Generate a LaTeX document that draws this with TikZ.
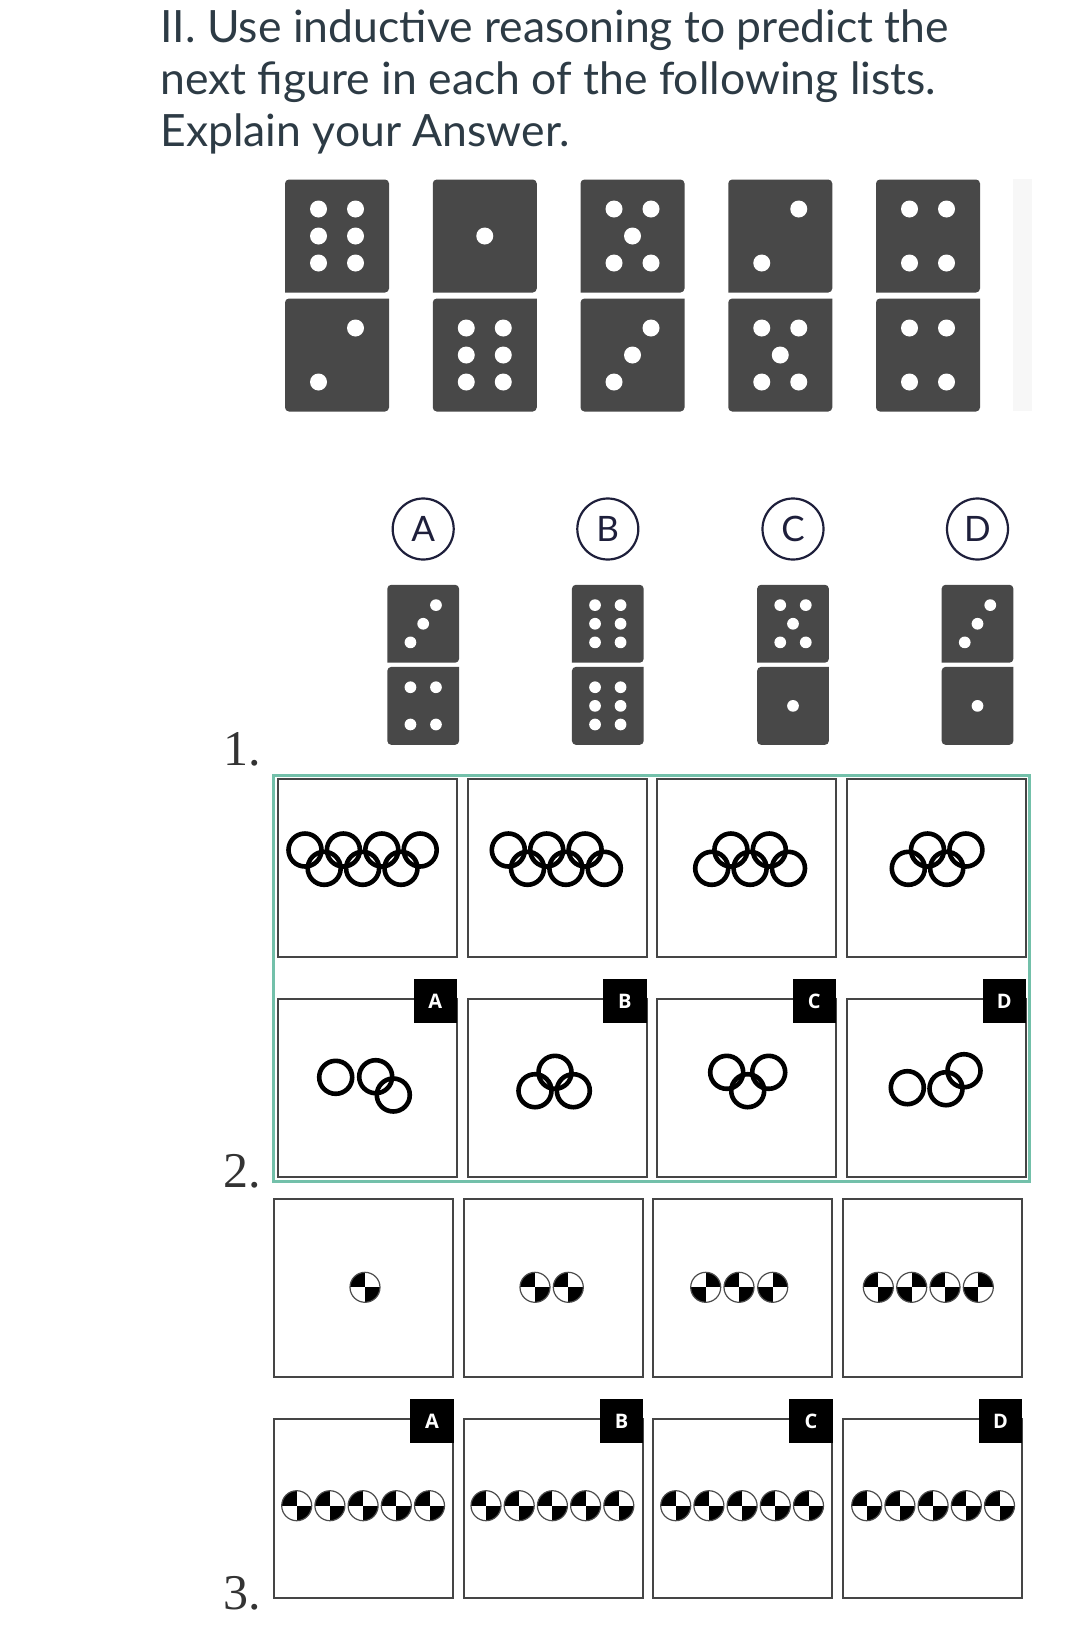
\documentclass[tikz,border=0pt]{standalone}
\usepackage{fontspec}
\setmainfont{Lato}
\newfontfamily\numfont{Liberation Serif}
\newfontfamily\tagfont{Open Sans}
\usetikzlibrary{positioning}

\definecolor{canvastext}{HTML}{2D3B45}
\definecolor{dominogray}{HTML}{484848}
\definecolor{framegreen}{RGB}{115,192,170}
\definecolor{boxgray}{HTML}{454545}
\definecolor{circlenavy}{HTML}{1E1F3B}
\definecolor{numgray}{HTML}{333333}

% one white pip, offset from the face centre \fy
\def\pip(#1,#2){\fill[white] ({#1},{\fy+(#2)}) circle (8.5);}
\newcommand{\pips}[1]{%
  \ifcase#1\or
    \pip(0,0)\or
    \pip(18.5,-27)\pip(-18.5,27)\or
    \pip(18.5,-27)\pip(0,0)\pip(-18.5,27)\or
    \pip(-18.5,-27)\pip(18.5,-27)\pip(-18.5,27)\pip(18.5,27)\or
    \pip(-18.5,-27)\pip(18.5,-27)\pip(0,0)\pip(-18.5,27)\pip(18.5,27)\or
    \pip(-18.5,-27)\pip(18.5,-27)\pip(-18.5,0)\pip(18.5,0)\pip(-18.5,27)\pip(18.5,27)\fi}
% domino: centre x, centre y, scale, top, bottom
\newcommand{\domino}[5]{%
  \begin{scope}[shift={(#1,#2)}, scale=#3]
    \fill[dominogray] (-52,-3) [rounded corners=2pt] -- (-52,-116) -- (52,-116) -- (52,-3) [sharp corners] -- cycle;
    \fill[dominogray] (52,3) [rounded corners=2pt] -- (52,116) -- (-52,116) -- (-52,3) [sharp corners] -- cycle;
    \def\fy{-59.5}\pips{#4}
    \def\fy{59.5}\pips{#5}
  \end{scope}}
% crash test mark: x, y, 0 = black top left, 1 = black top right
\newcommand{\crash}[3]{%
  \begin{scope}
    \clip (#1,#2) circle (15);
    \fill[white] (#1,#2) circle (15);
    \ifnum#3=0
      \fill[black] (#1-15,#2-15) rectangle (#1,#2);
      \fill[black] (#1,#2) rectangle (#1+15,#2+15);
    \else
      \fill[black] (#1,#2-15) rectangle (#1+15,#2);
      \fill[black] (#1-15,#2) rectangle (#1,#2+15);
    \fi
  \end{scope}
  \draw[black!70, line width=0.6pt] (#1,#2) circle (15);}

\begin{document}
\begin{tikzpicture}[x=0.5pt, y=-0.5pt]
    \tikzstyle{titletext} = [anchor=base west, inner sep=0pt, text=canvastext, font=\fontsize{22.25}{26}\selectfont]
    \tikzstyle{numtext} = [anchor=base west, inner sep=0pt, text=numgray, font=\numfont\fontsize{25}{25}\selectfont]
    \tikzstyle{optcircle} = [circle, draw=circlenavy, line width=1.1pt, minimum size=30.5pt, inner sep=0pt, text=circlenavy, font=\fontsize{17.5}{17.5}\selectfont]
    \tikzstyle{cell} = [draw=boxgray, line width=1pt]
    \tikzstyle{tag} = [fill=black, text=white, minimum size=21.7pt, inner sep=0pt, anchor=north east, font=\tagfont\bfseries\fontsize{10}{10}\selectfont]
    \tikzstyle{ring} = [draw=black, line width=2.3pt]
    \tikzstyle{frame} = [draw=framegreen, line width=1.5pt]

    \useasboundingbox[fill=white] (0,0) rectangle (1080,1644);

    % ================= title =================
    \node[titletext] (title1) at (160,42) {II. Use inductive reasoning to predict the};
    \node[titletext] (title2) at (160,94.4) {next figure in each of the following lists.};
    \node[titletext] (title3) at (160,146.8) {Explain your Answer.};

    \node[numtext] (num1) at (223,765) {1.};
    \node[numtext] (num2) at (223,1187) {2.};
    \node[numtext] (num3) at (223,1609) {3.};

    % ================= 1: dominoes =================
    \foreach \tp/\bt [count=\i from 0] in {6/2,1/6,5/3,2/5,4/4} {
        \domino{337+147.75*\i}{295.5}{1}{\tp}{\bt}
    }
    \fill[gray!6] (1013,179) rectangle (1032,411);

    % choices
    \foreach \cx/\tp/\bt/\lab in {423.2/3/4/A, 607.8/6/6/B, 793/5/1/C, 977.5/3/1/D} {
        \node[optcircle] (opt\lab) at (\cx,529) {\lab};
        \domino{\cx}{664.8}{0.69}{\tp}{\bt}
    }

    % ================= 2: rings =================
    \draw[frame] (273,775.5) rectangle (1029.5,1181);
    \foreach \bx/\lab in {278.3/A,468/B,657.3/C,847.3/D} {
        \draw[cell] (\bx,779) rectangle +(178.5,178.3);
        \draw[cell] (\bx,999.3) rectangle +(178.5,178);
        \node[tag] (tagr\lab) at (\bx+179,979) {\lab};
    }
    \foreach \sx/\n/\f in {305/7/0, 508.3/6/0, 711.7/5/1, 908.3/4/1} {
        \foreach \k in {1,...,\n} {
            \pgfmathsetmacro{\ry}{850+18.3*mod(\k+\f+1,2)}
            \draw[ring] (\sx+19.2*\k-19.2,\ry) circle (16.5);
        }
    }
    \foreach \p in {(335.7,1077.3),(375.7,1076.7),(393.3,1095),
                    (555,1072.3),(535,1090.7),(573.3,1090.7),
                    (726.7,1072.3),(768.7,1072.3),(747.7,1090.7),
                    (907.3,1087.7),(946,1088.7),(964,1070.7)} {
        \draw[ring] \p circle (16.5);
    }

    % ================= 3: crash marks =================
    \foreach \bx/\lab in {274.3/A,464/B,653.3/C,843/D} {
        \draw[cell] (\bx,1199) rectangle +(179,178.3);
        \draw[cell] (\bx,1419.3) rectangle +(179,179);
        \node[tag] (tagc\lab) at (\bx+179.7,1399) {\lab};
    }
    \foreach \cx/\t in {365/0, 535/0, 568.3/0, 705.7/1, 739/0, 772.7/1,
                        878.3/0, 911.7/1, 945/0, 978.3/1} {
        \crash{\cx}{1287.3}{\t}
    }
    \foreach \sx in {296.7,486,675.7,866.7} {
        \foreach \k in {0,...,4} {
            \crash{\sx+33.2*\k}{1505.7}{0}
        }
    }
\end{tikzpicture}
\end{document}
